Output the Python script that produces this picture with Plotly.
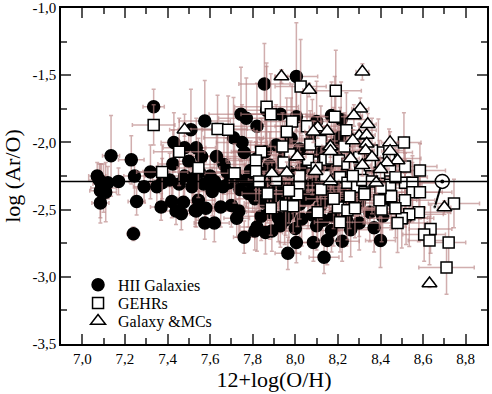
import plotly.graph_objects as go

# (12+log(O/H), log(Ar/O), err_x, err_y)
hii = [
    (7.07, -2.25, 0.04, 0.10), (7.08, -2.28, 0.05, 0.12), (7.09, -2.31, 0.04, 0.15), (7.085, -2.36, 0.05, 0.20),
    (7.10, -2.34, 0.06, 0.18), (7.11, -2.37, 0.05, 0.22), (7.085, -2.45, 0.04, 0.15), (7.12, -2.30, 0.05, 0.12),
    (7.135, -2.10, 0.04, 0.30), (7.17, -2.29, 0.05, 0.10), (7.23, -2.13, 0.06, 0.18), (7.245, -2.25, 0.05, 0.15),
    (7.255, -2.44, 0.04, 0.10), (7.24, -2.68, 0.03, 0.05), (7.29, -2.33, 0.05, 0.12), (7.32, -2.22, 0.06, 0.20),
    (7.335, -1.735, 0.05, 0.13), (7.35, -2.33, 0.07, 0.15), (7.37, -2.48, 0.05, 0.10), (7.375, -2.30, 0.06, 0.18),
    (7.41, -2.28, 0.08, 0.20), (7.42, -2.44, 0.05, 0.12), (7.425, -2.16, 0.07, 0.25), (7.43, -2.00, 0.06, 0.22),
    (7.44, -2.51, 0.05, 0.10), (7.455, -2.31, 0.08, 0.15), (7.465, -2.53, 0.04, 0.12), (7.475, -2.445, 0.06, 0.10),
    (7.48, -2.04, 0.10, 0.25), (7.50, -2.14, 0.08, 0.20), (7.51, -1.905, 0.10, 0.30), (7.515, -2.33, 0.07, 0.18),
    (7.535, -2.04, 0.09, 0.22), (7.535, -2.51, 0.06, 0.12), (7.545, -2.43, 0.08, 0.15), (7.56, -2.105, 0.10, 0.25),
    (7.57, -2.31, 0.07, 0.20), (7.575, -1.84, 0.12, 0.30), (7.575, -2.60, 0.05, 0.12), (7.58, -2.49, 0.06, 0.15),
    (7.61, -2.365, 0.09, 0.18), (7.63, -2.105, 0.12, 0.25), (7.65, -2.48, 0.07, 0.15), (7.665, -2.165, 0.10, 0.22),
    (7.69, -2.30, 0.08, 0.18), (7.70, -2.47, 0.07, 0.16), (7.71, -1.965, 0.14, 0.30), (7.725, -2.565, 0.06, 0.14),
    (7.735, -2.51, 0.08, 0.20), (7.745, -1.79, 0.15, 0.35), (7.75, -2.00, 0.12, 0.28), (7.76, -2.705, 0.05, 0.12),
    (7.77, -1.82, 0.13, 0.30), (7.77, -2.28, 0.10, 0.20), (7.82, -1.88, 0.14, 0.32), (7.855, -1.565, 0.12, 0.30),
    (7.865, -1.76, 0.15, 0.35), (8.005, -1.51, 0.10, 0.40), (7.93, -1.79, 0.16, 0.30), (8.005, -1.81, 0.15, 0.28),
    (8.10, -1.845, 0.14, 0.30), (8.17, -1.80, 0.12, 0.25), (8.215, -1.83, 0.13, 0.28), (8.21, -1.96, 0.12, 0.22),
    (7.76, -2.075, 0.12, 0.25),
    (7.48, -2.25, 0.08, 0.15), (7.52, -2.27, 0.09, 0.18), (7.55, -2.22, 0.10, 0.20), (7.60, -2.25, 0.08, 0.15),
    (7.62, -2.29, 0.09, 0.22), (7.66, -2.33, 0.10, 0.18), (7.68, -2.22, 0.12, 0.25), (7.72, -2.26, 0.10, 0.20),
    (7.74, -2.35, 0.11, 0.22), (7.78, -2.38, 0.10, 0.25), (7.80, -2.32, 0.12, 0.20), (7.81, -2.42, 0.09, 0.18),
    (7.83, -2.27, 0.13, 0.25), (7.85, -2.36, 0.12, 0.22), (7.86, -2.45, 0.10, 0.20), (7.88, -2.33, 0.14, 0.25),
    (7.90, -2.40, 0.12, 0.22), (7.92, -2.30, 0.15, 0.28), (7.94, -2.38, 0.12, 0.20), (7.96, -2.44, 0.10, 0.22),
    (7.98, -2.34, 0.14, 0.25), (8.00, -2.40, 0.12, 0.20), (8.02, -2.46, 0.10, 0.24), (8.04, -2.36, 0.15, 0.25),
    (8.06, -2.42, 0.12, 0.22), (8.08, -2.30, 0.14, 0.28), (8.10, -2.39, 0.12, 0.20), (8.12, -2.47, 0.10, 0.25),
    (8.14, -2.35, 0.13, 0.22), (8.16, -2.42, 0.12, 0.20), (8.18, -2.32, 0.14, 0.25), (8.20, -2.44, 0.12, 0.22),
    (8.22, -2.38, 0.13, 0.24), (8.25, -2.41, 0.12, 0.20), (8.28, -2.35, 0.14, 0.22), (8.30, -2.45, 0.12, 0.25),
    (7.82, -2.12, 0.14, 0.28), (7.86, -2.07, 0.15, 0.30), (7.88, -2.17, 0.12, 0.25), (7.91, -2.02, 0.16, 0.30),
    (7.95, -2.10, 0.14, 0.26), (7.98, -1.97, 0.15, 0.30), (8.02, -2.05, 0.14, 0.28), (8.05, -2.13, 0.12, 0.25),
    (8.08, -1.98, 0.15, 0.30), (8.12, -2.08, 0.14, 0.26), (8.15, -2.18, 0.12, 0.22), (8.18, -2.02, 0.14, 0.28),
    (8.20, -2.12, 0.12, 0.25), (8.24, -2.22, 0.12, 0.22), (7.79, -2.21, 0.12, 0.22), (7.84, -2.23, 0.13, 0.25),
    (7.90, -2.25, 0.14, 0.24), (7.97, -2.22, 0.13, 0.26), (8.03, -2.20, 0.14, 0.25), (8.09, -2.24, 0.12, 0.22),
    (8.13, -2.21, 0.13, 0.24), (8.19, -2.27, 0.12, 0.22), (8.26, -2.28, 0.12, 0.20),
    (7.53, -2.505, 0.06, 0.12), (7.62, -2.60, 0.07, 0.14), (7.82, -2.63, 0.08, 0.18), (7.86, -2.67, 0.08, 0.16),
    (7.89, -2.66, 0.09, 0.15), (7.81, -2.66, 0.07, 0.14), (7.965, -2.825, 0.06, 0.12), (8.005, -2.745, 0.08, 0.15),
    (8.085, -2.745, 0.08, 0.14), (8.135, -2.855, 0.07, 0.12), (8.15, -2.73, 0.09, 0.18), (8.22, -2.735, 0.08, 0.15),
    (8.26, -2.65, 0.10, 0.20), (8.40, -2.73, 0.07, 0.20), (8.37, -2.635, 0.09, 0.18), (8.00, -2.64, 0.10, 0.18),
    (7.93, -2.62, 0.09, 0.16), (7.95, -2.58, 0.10, 0.18), (8.17, -2.655, 0.09, 0.16), (8.10, -2.62, 0.10, 0.18),
    (7.84, -2.55, 0.10, 0.18), (7.88, -2.52, 0.11, 0.20), (7.92, -2.56, 0.10, 0.18), (7.97, -2.53, 0.11, 0.20),
    (8.03, -2.57, 0.10, 0.20), (8.08, -2.54, 0.12, 0.20), (8.13, -2.58, 0.10, 0.18), (8.18, -2.55, 0.11, 0.22),
    (8.24, -2.57, 0.10, 0.20), (8.30, -2.60, 0.10, 0.20), (8.35, -2.52, 0.11, 0.22), (8.41, -2.55, 0.10, 0.20),
    (8.45, -2.43, 0.12, 0.22), (8.52, -2.56, 0.10, 0.20),
]

gehr = [
    (7.335, -1.87, 0.10, 0.15), (7.375, -2.22, 0.12, 0.20), (7.455, -2.07, 0.12, 0.25), (7.545, -2.19, 0.10, 0.22),
    (7.635, -1.90, 0.14, 0.25), (7.685, -1.905, 0.12, 0.25), (7.715, -2.23, 0.14, 0.22), (7.865, -1.735, 0.15, 0.30),
    (7.885, -1.79, 0.14, 0.30), (8.025, -1.585, 0.12, 0.35), (8.19, -1.615, 0.12, 0.30), (7.985, -1.845, 0.14, 0.28),
    (8.055, -1.88, 0.15, 0.28), (7.96, -1.92, 0.14, 0.25), (8.185, -1.81, 0.13, 0.30), (8.24, -1.91, 0.14, 0.28),
    (8.07, -2.015, 0.15, 0.25), (7.84, -2.07, 0.14, 0.25), (8.23, -2.03, 0.15, 0.25), (7.975, -2.09, 0.14, 0.24),
    (8.51, -2.00, 0.08, 0.22), (8.39, -2.075, 0.16, 0.25), (7.815, -2.135, 0.14, 0.22), (7.945, -2.15, 0.15, 0.25),
    (8.08, -2.15, 0.14, 0.24), (8.14, -2.13, 0.15, 0.25), (8.17, -2.12, 0.14, 0.22), (8.205, -2.135, 0.15, 0.24),
    (8.245, -2.16, 0.14, 0.22), (8.28, -2.17, 0.15, 0.24), (8.305, -2.21, 0.14, 0.25), (8.35, -2.17, 0.16, 0.22),
    (8.395, -2.225, 0.15, 0.24), (8.445, -2.21, 0.16, 0.22), (8.515, -2.18, 0.15, 0.22), (8.585, -2.21, 0.12, 0.20),
    (7.815, -2.215, 0.13, 0.22), (7.83, -2.29, 0.14, 0.22), (8.02, -2.32, 0.15, 0.25), (8.21, -2.26, 0.14, 0.22),
    (8.245, -2.30, 0.15, 0.24), (8.29, -2.33, 0.14, 0.22), (8.315, -2.28, 0.15, 0.24), (8.325, -2.37, 0.14, 0.22),
    (8.445, -2.315, 0.15, 0.20), (8.515, -2.30, 0.16, 0.22), (8.55, -2.30, 0.15, 0.20), (8.55, -2.37, 0.14, 0.22),
    (8.585, -2.37, 0.15, 0.20), (8.01, -2.385, 0.14, 0.24), (8.745, -2.455, 0.12, 0.18), (8.58, -2.52, 0.15, 0.22),
    (8.535, -2.535, 0.16, 0.24), (8.50, -2.565, 0.15, 0.22), (8.48, -2.60, 0.14, 0.22), (8.635, -2.645, 0.10, 0.18),
    (8.605, -2.685, 0.10, 0.20), (8.63, -2.73, 0.10, 0.18), (8.72, -2.745, 0.08, 0.22), (8.71, -2.93, 0.13, 0.20),
    (8.405, -2.50, 0.14, 0.24), (8.21, -2.595, 0.12, 0.22), (8.20, -2.485, 0.14, 0.25), (8.105, -2.52, 0.12, 0.22),
    (7.885, -2.49, 0.12, 0.20), (7.955, -2.47, 0.13, 0.22), (7.99, -2.475, 0.12, 0.20), (8.245, -2.505, 0.13, 0.22),
    (8.255, -2.40, 0.14, 0.24), (8.325, -2.385, 0.15, 0.22), (8.395, -2.43, 0.14, 0.22), (8.45, -2.40, 0.15, 0.22),
    (8.515, -2.43, 0.14, 0.20), (8.06, -2.13, 0.14, 0.24), (8.10, -2.19, 0.15, 0.25), (8.02, -2.25, 0.14, 0.22),
    (7.91, -2.28, 0.13, 0.24), (7.87, -2.38, 0.12, 0.22), (8.14, -2.25, 0.14, 0.24), (8.12, -2.35, 0.13, 0.22),
    (7.97, -2.36, 0.14, 0.24), (8.18, -2.42, 0.13, 0.22), (8.27, -2.25, 0.14, 0.22), (8.36, -2.29, 0.15, 0.24),
    (8.40, -2.34, 0.14, 0.22), (8.47, -2.26, 0.15, 0.22), (8.30, -2.11, 0.14, 0.25), (8.36, -2.06, 0.15, 0.24),
    (8.12, -1.99, 0.14, 0.26), (7.94, -2.03, 0.13, 0.25), (8.28, -2.49, 0.12, 0.22), (8.47, -2.49, 0.14, 0.22),
    (8.44, -2.12, 0.15, 0.22),
]

mcs = [
    (7.48, -1.905, 0.03, 0.05), (7.935, -1.51, 0.03, 0.05), (8.065, -1.61, 0.03, 0.05), (8.315, -1.475, 0.03, 0.06),
    (8.305, -1.75, 0.04, 0.08), (8.275, -1.80, 0.04, 0.08), (8.34, -1.865, 0.04, 0.08), (8.105, -1.89, 0.04, 0.08),
    (8.085, -1.92, 0.04, 0.08), (8.15, -1.915, 0.04, 0.08), (8.30, -1.95, 0.04, 0.08), (8.335, -1.945, 0.04, 0.08),
    (8.27, -1.985, 0.04, 0.08), (8.335, -2.01, 0.04, 0.08), (8.445, -2.00, 0.04, 0.08), (8.445, -2.065, 0.04, 0.08),
    (8.165, -2.03, 0.04, 0.08), (8.165, -2.065, 0.04, 0.08), (8.33, -2.06, 0.04, 0.08), (8.48, -2.135, 0.04, 0.08),
    (8.43, -2.15, 0.04, 0.08), (8.01, -2.105, 0.04, 0.08), (8.315, -2.17, 0.04, 0.08), (7.96, -2.225, 0.04, 0.08),
    (7.89, -2.23, 0.04, 0.08), (8.095, -2.215, 0.04, 0.08), (8.165, -2.29, 0.04, 0.08), (8.70, -2.485, 0.03, 0.05),
    (8.63, -3.05, 0.02, 0.03), (8.36, -2.11, 0.04, 0.08), (8.40, -2.20, 0.04, 0.08), (8.26, -2.12, 0.04, 0.08),
    (8.38, -2.30, 0.04, 0.08),
]

# solar value and the older solar estimate it is linked to
sun_x = [8.69]
sun_y = [-2.29]
old_sun_x = [8.655]
old_sun_y = [-2.48]

x_ticks = [7.0, 7.2, 7.4, 7.6, 7.8, 8.0, 8.2, 8.4, 8.6, 8.8]
x_labels = ["7,0", "7,2", "7,4", "7,6", "7,8", "8,0", "8,2", "8,4", "8,6", "8,8"]
y_ticks = [-1.0, -1.5, -2.0, -2.5, -3.0, -3.5]
y_labels = ["-1,0", "-1,5", "-2,0", "-2,5", "-3,0", "-3,5"]

err_color = "rgba(185,130,130,0.65)"
serif = "Times New Roman, Liberation Serif, DejaVu Serif, serif"


def series(rows, name, symbol, fill, size, legend):
    x, y, ex, ey = zip(*rows)
    return go.Scatter(
        x=x, y=y, mode="markers", name=name, legend=legend,
        marker={"symbol": symbol, "color": fill, "size": size,
                "line": {"color": "black", "width": 1.5}},
        error_x={"type": "data", "array": ex, "color": err_color, "thickness": 1.5, "width": 2},
        error_y={"type": "data", "array": ey, "color": err_color, "thickness": 1.5, "width": 2},
    )


fig = go.Figure()
fig.add_trace(series(hii, "HII Galaxies", "circle", "black", 12, "legend"))
fig.add_trace(series(gehr, "GEHRs", "square", "white", 11, "legend2"))
fig.add_trace(series(mcs, "Galaxy &MCs", "triangle-up", "white", 13, "legend3"))

# solar line
fig.add_hline(y=sun_y[0], line={"color": "black", "width": 1.5})
fig.add_trace(go.Scatter(
    x=[sun_x[0], old_sun_x[0]], y=[sun_y[0], old_sun_y[0]], mode="lines+markers",
    line={"color": "black", "width": 2}, marker={"size": [0, 4], "color": "black"},
    showlegend=False, hoverinfo="skip"))
fig.add_trace(go.Scatter(
    x=sun_x, y=sun_y, mode="markers", showlegend=False,
    marker={"symbol": "circle", "size": 14, "color": "white",
            "line": {"color": "black", "width": 1.5}}))
fig.add_trace(go.Scatter(
    x=sun_x, y=sun_y, mode="markers", showlegend=False,
    marker={"symbol": "circle", "size": 4, "color": "black"}))

axis = dict(
    showline=True, linecolor="black", linewidth=1.5, mirror="allticks",
    ticks="inside", ticklen=10, tickwidth=2, tickcolor="#555",
    showgrid=False, zeroline=False, automargin=False,
    tickfont={"family": serif, "size": 15, "color": "black"},
)

leg = {"x": 0.04, "xanchor": "left", "yanchor": "middle",
       "bgcolor": "rgba(0,0,0,0)", "font": {"family": serif, "size": 16}}

fig.update_layout(
    width=492, height=394,
    margin={"l": 61, "r": 5, "t": 8, "b": 50},
    paper_bgcolor="white", plot_bgcolor="white",
    font={"family": serif, "color": "black"},
    xaxis=dict(axis, range=[6.9, 8.9], tickvals=x_ticks, ticktext=x_labels,
               minor={"ticks": "inside", "ticklen": 6, "dtick": 0.1, "tick0": 6.9,
                      "tickwidth": 2, "tickcolor": "#555"},
               title={"text": "12+log(O/H)", "font": {"family": serif, "size": 22}, "standoff": 5}),
    yaxis=dict(axis, range=[-3.5, -1.0], tickvals=y_ticks, ticktext=y_labels,
               minor={"ticks": "inside", "ticklen": 6, "dtick": 0.25, "tick0": -3.5,
                      "tickwidth": 2, "tickcolor": "#555"},
               title={"text": "log (Ar/O)", "font": {"family": serif, "size": 22}, "standoff": 6}),
    legend=dict(leg, y=0.176),
    legend2=dict(leg, y=0.122),
    legend3=dict(leg, y=0.068),
    showlegend=True,
)

# the page's default 8px body margin would push the figure off the window
fig.write_html("out.html", config={"displayModeBar": False},
               post_script="document.body.style.margin='0';")
